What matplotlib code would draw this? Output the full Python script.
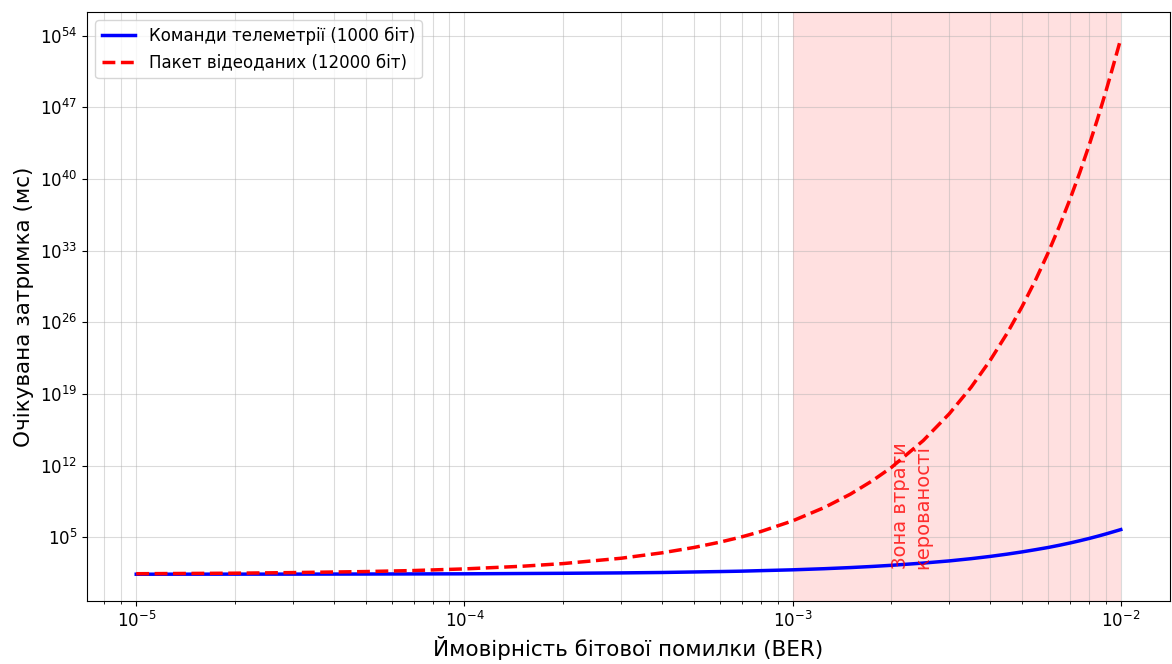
import numpy as np
import matplotlib
matplotlib.use("Agg")
import matplotlib.pyplot as plt
from matplotlib.ticker import NullLocator

# Bit error rate sample points
ber = [1e-5, 2e-5, 3e-5, 5e-5, 7e-5, 1e-4, 1.5e-4, 2e-4, 3e-4, 4e-4, 5e-4,
       6e-4, 7e-4, 8e-4, 1e-3, 1.25e-3, 1.5e-3, 1.75e-3, 2e-3, 2.5e-3, 3e-3,
       3.5e-3, 4e-3, 4.5e-3, 5e-3, 5.5e-3, 6e-3, 6.5e-3, 7e-3, 7.5e-3, 8e-3,
       8.5e-3, 9e-3, 9.5e-3, 1e-2]

# Expected delay, as log10 of milliseconds
telemetry_log10_ms = [1.40, 1.41, 1.41, 1.42, 1.43, 1.44, 1.47, 1.49, 1.53, 1.57,
                      1.62, 1.66, 1.70, 1.75, 1.83, 1.94, 2.05, 2.16, 2.27, 2.49,
                      2.70, 2.92, 3.14, 3.36, 3.58, 3.80, 4.01, 4.23, 4.45, 4.67,
                      4.89, 5.11, 5.33, 5.55, 5.76]
video_log10_ms = [1.45, 1.50, 1.56, 1.66, 1.76, 1.92, 2.18, 2.44, 2.96, 3.49,
                  4.01, 4.53, 5.05, 5.57, 6.61, 7.92, 9.22, 10.53, 11.83, 14.45,
                  17.06, 19.67, 22.29, 24.91, 27.52, 30.14, 32.76, 35.39, 38.01,
                  40.63, 43.26, 45.89, 48.52, 51.15, 53.70]

telemetry_label = "Команди телеметрії (1000 біт)"
video_label = "Пакет відеоданих (12000 біт)"

loss_zone = (1e-3, 1e-2)
y_tick_exponents = list(range(5, 55, 7))

fig = plt.figure(figsize=(11.72, 6.64), dpi=100)
ax = fig.add_axes([87 / 1172, 1 - 601 / 664, (1170 - 87) / 1172, (601 - 12) / 664])

ber_arr = np.array(ber)
ax.plot(ber_arr, 10.0 ** np.array(telemetry_log10_ms), color="blue", lw=2.5,
        label=telemetry_label)
ax.plot(ber_arr, 10.0 ** np.array(video_log10_ms), color="red", lw=2.5,
        ls="--", label=video_label)

ax.set_xscale("log")
ax.set_yscale("log")

ax.axvspan(loss_zone[0], loss_zone[1], color="red", alpha=0.12, lw=0)
ax.text(2e-3, 220, "Зона втрати\nкерованості", rotation=90, color="red",
        fontsize=14, alpha=0.8)

ax.set_yticks([10.0 ** k for k in y_tick_exponents])
ax.yaxis.set_minor_locator(NullLocator())
ax.tick_params(labelsize=12)

ax.grid(True, which="both", color="#b0b0b0", alpha=0.45, lw=0.8)

ax.set_xlabel("Ймовірність бітової помилки (BER)", fontsize=15.5)
ax.set_ylabel("Очікувана затримка (мс)", fontsize=15.5)
ax.legend(loc="upper left", fontsize=12)

fig.savefig("out.png", dpi=100)
